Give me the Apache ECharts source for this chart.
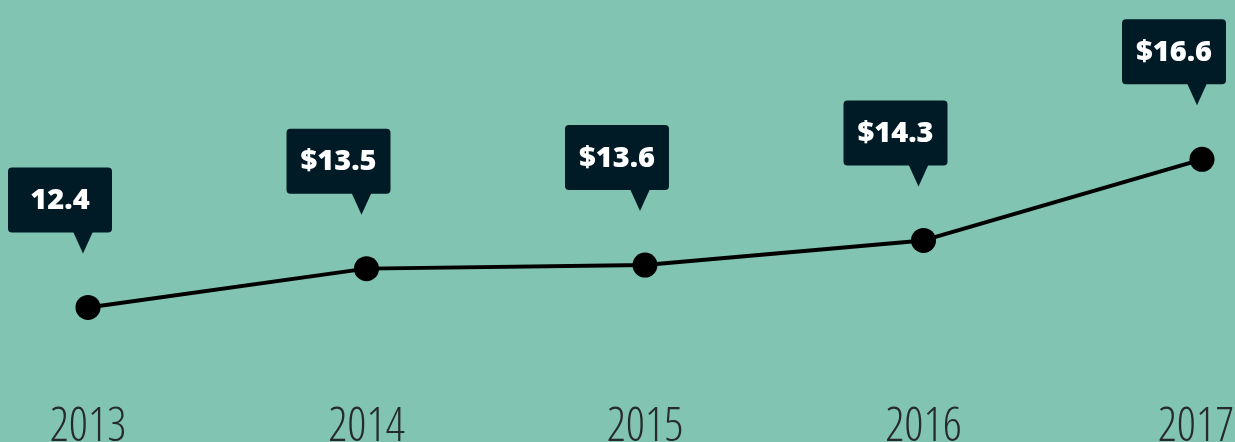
<!DOCTYPE html>
<html>
<head>
<meta charset="utf-8">
<script src="https://cdn.jsdelivr.net/npm/echarts@6/dist/echarts.min.js"></script>
<style>
  html, body { margin: 0; padding: 0; background: #80c4b1; overflow: hidden; }
  #chart { width: 1235px; height: 442px; }
</style>
</head>
<body>
<div id="chart"></div>
<script>
const years = ['2013', '2014', '2015', '2016', '2017'];
const values = [12.4, 13.5, 13.6, 14.3, 16.6];
const calloutLabels = ['12.4', '$13.5', '$13.6', '$14.3', '$16.6'];

const chart = echarts.init(document.getElementById('chart'), null, { renderer: 'canvas' });

chart.setOption({
  backgroundColor: '#80c4b1',
  animation: false,
  grid: { left: 88, right: 33, top: 110, bottom: 50, containLabel: false, outerBoundsMode: 'none' },
  xAxis: {
    type: 'category',
    data: years,
    boundaryGap: false,
    axisLine: { show: false },
    axisTick: { show: false },
    splitLine: { show: false },
    axisLabel: {
      color: '#262a28',
      fontFamily: 'Open Sans',
      fontStyle: 'condensed',
      fontWeight: 300,
      fontSize: 47,
      margin: 12,
      verticalAlign: 'top',
      hideOverlap: false,
      formatter: function (v, i) {
        return i === years.length - 1 ? '{last|' + v + '}' : v;
      },
      rich: {
        last: {
          color: '#262a28',
          fontFamily: 'Open Sans',
          fontStyle: 'condensed',
          fontWeight: 300,
          fontSize: 47,
          padding: [0, 12, 0, 0]
        }
      }
    }
  },
  yAxis: {
    type: 'value',
    min: 10,
    max: 18,
    show: false,
    splitLine: { show: false }
  },
  series: [
    {
      type: 'line',
      data: values,
      symbol: 'circle',
      symbolSize: 25,
      lineStyle: { color: '#000000', width: 4 },
      itemStyle: { color: '#000000' },
      z: 2
    },
    {
      type: 'custom',
      data: values.map((v, i) => [i, v]),
      z: 3,
      renderItem: function (params, api) {
        const p = api.coord([api.value(0), api.value(1)]);
        const tipX = p[0] - 5;
        const tipY = p[1] - 54;
        const triH = 21, triW = 20;
        const boxW = 104, boxH = 65;
        const boxX = tipX - 75;
        const boxY = tipY - triH - boxH;
        const fill = '#011b26';
        return {
          type: 'group',
          children: [
            {
              type: 'rect',
              shape: { x: boxX, y: boxY, width: boxW, height: boxH, r: 4 },
              style: { fill: fill }
            },
            {
              type: 'polygon',
              shape: { points: [[tipX - triW / 2, tipY - triH - 1], [tipX + triW / 2, tipY - triH - 1], [tipX, tipY]] },
              style: { fill: fill }
            },
            {
              type: 'text',
              x: boxX + boxW / 2,
              y: boxY + boxH / 2 + 1,
              style: {
                text: calloutLabels[params.dataIndex],
                fill: '#ffffff',
                font: '800 29px "Open Sans"',
                align: 'center',
                verticalAlign: 'middle'
              }
            }
          ]
        };
      }
    }
  ]
});
</script>
</body>
</html>
